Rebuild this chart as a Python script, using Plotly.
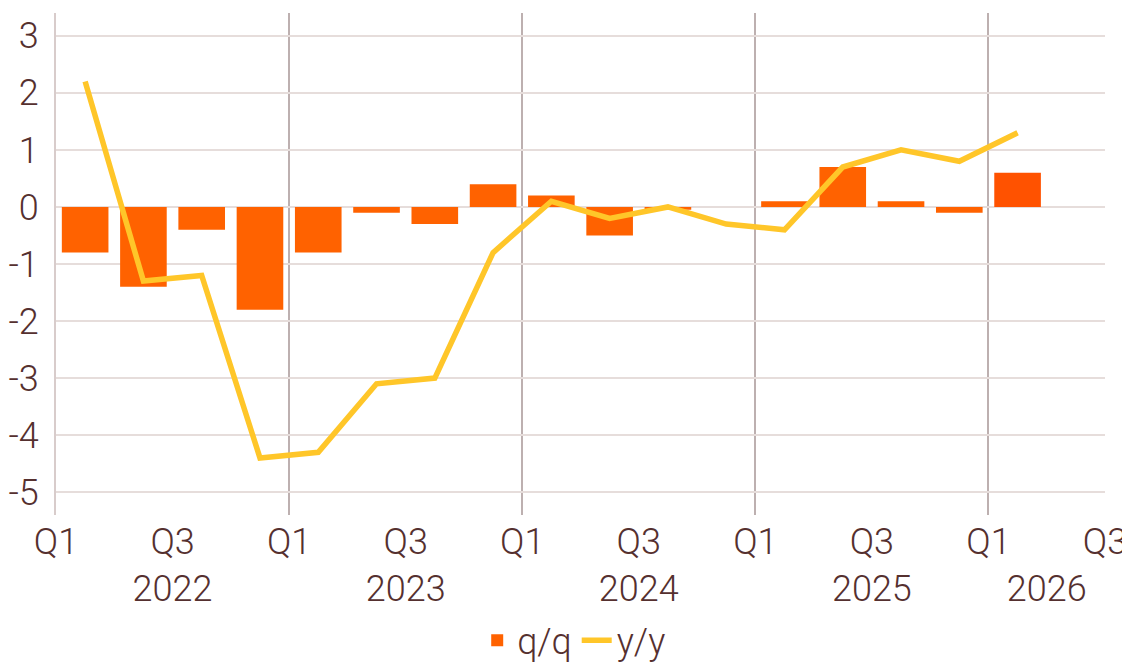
import plotly.graph_objects as go

quarters = ["Q1 2022", "Q2 2022", "Q3 2022", "Q4 2022",
            "Q1 2023", "Q2 2023", "Q3 2023", "Q4 2023",
            "Q1 2024", "Q2 2024", "Q3 2024", "Q4 2024",
            "Q1 2025", "Q2 2025", "Q3 2025", "Q4 2025",
            "Q1 2026"]
qq = [-0.8, -1.4, -0.4, -1.8, -0.8, -0.1, -0.3, 0.4, 0.2, -0.5, -0.05, 0.0,
      0.1, 0.7, 0.1, -0.1, 0.6]
yy = [2.2, -1.3, -1.2, -4.4, -4.3, -3.1, -3.0, -0.8, 0.1, -0.2, 0.0, -0.3,
      -0.4, 0.7, 1.0, 0.8, 1.3]

tick_pos = [0, 2, 4, 6, 8, 10, 12, 14, 16, 18]
tick_text = ["Q1", "Q3", "Q1", "Q3", "Q1", "Q3", "Q1", "Q3", "Q1", "Q3"]
year_pos = [2, 6, 10, 14, 17]
year_text = ["2022", "2023", "2024", "2025", "2026"]
year_starts = [4, 8, 12, 16]
y_ticks = [-5, -4, -3, -2, -1, 0, 1, 2, 3]
y_tick_text = ["-5", "-4", "-3", "-2", "-1", "0", "1", "2", "3"]

x_mid = [i + 0.5 for i in range(len(quarters))]
bar_colors = ["#FF6200"] * (len(qq) - 1) + ["#FF5200"]

TEXT = "#55302F"
FONT = dict(family="Roboto", size=36, color=TEXT, weight=300)

fig = go.Figure()
fig.add_trace(go.Bar(x=x_mid, y=qq, name="q/q", width=0.8,
                     marker=dict(color=bar_colors, line=dict(width=0)),
                     customdata=quarters))
fig.add_trace(go.Scatter(x=x_mid, y=yy, name="y/y", mode="lines",
                         line=dict(color="#FFC629", width=5.5),
                         customdata=quarters))
# invisible helper trace for the year axis
fig.add_trace(go.Scatter(x=[0, 18], y=[None, None], xaxis="x2",
                         showlegend=False, hoverinfo="skip"))

fig.update_layout(
    width=1130, height=662,
    margin=dict(l=48, r=33, t=5, b=155, autoexpand=False),
    paper_bgcolor="white", plot_bgcolor="white",
    font=FONT,
    showlegend=True,
    legend=dict(orientation="h", x=0.494, xanchor="center", y=-0.19,
                yanchor="top", font=FONT, itemwidth=30,
                traceorder="normal"),
    bargap=0.2,
    xaxis=dict(range=[0, 18], tickmode="array", tickvals=tick_pos,
               ticktext=tick_text, showgrid=False, zeroline=False,
               showline=False, ticks="", ticklabelstandoff=2, automargin=False,
               minor=dict(tickmode="array", tickvals=year_starts,
                          showgrid=True, gridcolor="#BDB0B0", gridwidth=1.5,
                          ticks="")),
    xaxis2=dict(range=[0, 18], overlaying="x", side="bottom", anchor="y",
                tickmode="array", tickvals=year_pos, ticktext=year_text,
                showgrid=False, zeroline=False, showline=False, ticks="",
                ticklabelstandoff=49, automargin=False),
    yaxis=dict(range=[-5.4, 3.4], tickmode="array", tickvals=y_ticks,
               ticktext=y_tick_text, showgrid=True,
               gridcolor="#E6DDDB", gridwidth=2, zeroline=False,
               showline=True, linecolor="#D8CCCB", linewidth=2,
               ticks="", ticklabelstandoff=8, automargin=False),
)

fig.write_html("out.html")
